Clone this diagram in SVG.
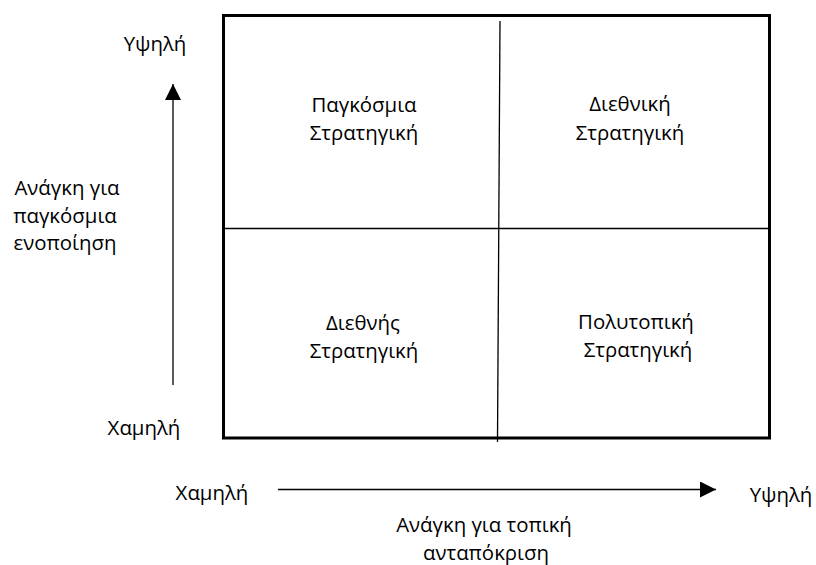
<svg xmlns="http://www.w3.org/2000/svg" width="816" height="565" viewBox="0 0 816 565">
<style>
  text { font-family: "Open Sans", "Noto Sans", "Liberation Sans", sans-serif; font-size: 20.4px; fill: #000; text-anchor: middle; }
  .ln { stroke: #000; stroke-width: 1.3; fill: none; }
</style>
<defs>
  <marker id="ah" markerWidth="16" markerHeight="16" refX="16" refY="8" orient="auto" markerUnits="userSpaceOnUse">
    <path d="M0,0 L16,8 L0,16 Z" fill="#000"/>
  </marker>
</defs>
<rect width="816" height="565" fill="#fff"/>
<g id="grid">
  <rect x="223.5" y="15.5" width="546" height="422.5" fill="none" stroke="#000" stroke-width="3"/>
  <line class="ln" x1="500" y1="21" x2="497.5" y2="442"/>
  <line class="ln" x1="224" y1="228.5" x2="769" y2="228.5"/>
</g>
<g id="connectors">
  <line class="ln" x1="173" y1="385" x2="173" y2="84" marker-end="url(#ah)"/>
  <line class="ln" x1="278" y1="489.5" x2="716" y2="489.5" marker-end="url(#ah)"/>
</g>
<g id="q-global">
  <text x="364" y="111.5">Παγκόσμια</text>
  <text x="364" y="140">Στρατηγική</text>
</g>
<g id="q-transnational">
  <text x="630" y="111">Διεθνική</text>
  <text x="630" y="140">Στρατηγική</text>
</g>
<g id="q-international">
  <text x="363" y="330">Διεθνής</text>
  <text x="364" y="358">Στρατηγική</text>
</g>
<g id="q-multidomestic">
  <text x="636" y="329">Πολυτοπική</text>
  <text x="638" y="357">Στρατηγική</text>
</g>
<g id="y-axis-labels">
  <text x="155" y="51">Υψηλή</text>
  <text x="67" y="195">Ανάγκη για</text>
  <text x="65" y="223">παγκόσμια</text>
  <text x="65" y="250">ενοποίηση</text>
  <text x="144" y="435">Χαμηλή</text>
</g>
<g id="x-axis-labels">
  <text x="212" y="500">Χαμηλή</text>
  <text x="781" y="502">Υψηλή</text>
  <text x="484" y="531.5">Ανάγκη για τοπική</text>
  <text x="486" y="560">ανταπόκριση</text>
</g>
</svg>
